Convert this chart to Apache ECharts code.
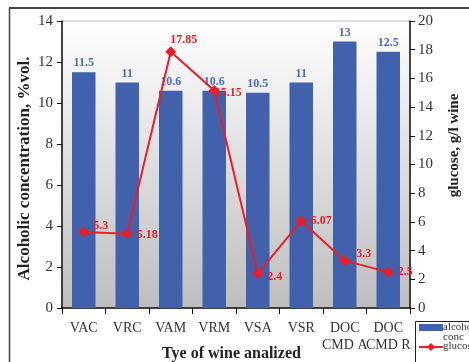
<!DOCTYPE html>
<html>
<head>
<meta charset="utf-8">
<script src="https://cdn.jsdelivr.net/npm/echarts@6/dist/echarts.min.js"></script>
<style>
  html, body { margin: 0; padding: 0; background: #fff; }
  #chart { width: 469px; height: 362px; }
</style>
</head>
<body>
<div id="chart"></div>
<script>
// Wine samples and their measured values
const categories = ['VAC', 'VRC', 'VAM', 'VRM', 'VSA', 'VSR', 'DOC\nCMD A', 'DOC\nCMD R'];
const alcoholValues = [11.5, 11, 10.6, 10.6, 10.5, 11, 13, 12.5];
const glucoseValues = [5.3, 5.18, 17.85, 15.15, 2.4, 6.07, 3.3, 2.5];
const leftTicks = { min: 0, max: 14, step: 2 };
const rightTicks = { min: 0, max: 20, step: 2 };

// per-point nudges for the glucose labels
const glucoseLabelOffsets = [[0, -6], [0, 1], [-10, -12], [-9, 2], [0, 3], [0, 0], [2, -7], [0, 0]];

const serif = '"Liberation Serif", "DejaVu Serif", serif';
const chart = echarts.init(document.getElementById('chart'), null, { renderer: 'canvas' });

const axisLabelStyle = { fontFamily: serif, fontSize: 15, color: '#333' };

// hand-drawn legend box in the lower right corner
const legendX = 415, legendY = 321;
const legendGraphics = [
  { type: 'rect', shape: { x: legendX + 0.5, y: legendY + 0.5, width: 70, height: 50 },
    style: { fill: '#fff', stroke: '#222', lineWidth: 1 }, z: 10 },
  { type: 'rect', shape: { x: legendX + 4, y: legendY + 3, width: 24, height: 7 },
    style: { fill: '#4161ad' }, z: 11 },
  { type: 'text', x: legendX + 28, y: legendY + 1,
    style: { text: 'alcoholic', font: '11px ' + serif, fill: '#333' }, z: 11 },
  { type: 'text', x: legendX + 28, y: legendY + 11,
    style: { text: 'conc', font: '11px ' + serif, fill: '#333' }, z: 11 },
  { type: 'line', shape: { x1: legendX + 4, y1: legendY + 26, x2: legendX + 28, y2: legendY + 26 },
    style: { stroke: '#ee1c25', lineWidth: 2 }, z: 11 },
  { type: 'polygon', shape: { points: [[legendX + 16, legendY + 22], [legendX + 20, legendY + 26], [legendX + 16, legendY + 30], [legendX + 12, legendY + 26]] },
    style: { fill: '#ee1c25' }, z: 12 },
  { type: 'text', x: legendX + 28, y: legendY + 20,
    style: { text: 'glucose', font: '11px ' + serif, fill: '#333' }, z: 11 }
];

chart.setOption({
  animation: false,
  textStyle: { fontFamily: serif },
  graphic: [
    // outer frame lines
    { type: 'line', shape: { x1: 9, y1: 8, x2: 469, y2: 8 }, style: { stroke: '#444', lineWidth: 2 } },
    { type: 'line', shape: { x1: 9.5, y1: 8, x2: 9.5, y2: 362 }, style: { stroke: '#444', lineWidth: 1.5 } }
  ].concat(legendGraphics),
  grid: {
    left: 62, right: 59, top: 21, bottom: 54,
    outerBoundsMode: 'none',
    containLabel: false,
    show: true,
    borderWidth: 1,
    borderColor: '#bbb',
    backgroundColor: {
      type: 'linear', x: 0, y: 0, x2: 0, y2: 1,
      colorStops: [{ offset: 0, color: '#ffffff' }, { offset: 1, color: '#bdbdbd' }]
    }
  },
  xAxis: {
    type: 'category',
    data: categories,
    name: 'Tye of wine analized',
    nameLocation: 'middle',
    nameGap: 38,
    nameMoveOverlap: false,
    nameTextStyle: { fontFamily: serif, fontSize: 16, fontWeight: 'bold', color: '#222', padding: [0, 9, 0, 0] },
    axisLine: { lineStyle: { color: '#111', width: 1.5 } },
    axisTick: { show: true, length: 6, lineStyle: { color: '#111' } },
    axisLabel: Object.assign({}, axisLabelStyle, { interval: 0, margin: 12, lineHeight: 17, fontSize: 14 })
  },
  yAxis: [
    {
      type: 'value',
      min: leftTicks.min, max: leftTicks.max, interval: leftTicks.step,
      name: 'Alcoholic concentration, %vol.',
      nameLocation: 'middle',
      nameGap: 29,
      nameMoveOverlap: false,
      nameTextStyle: { fontFamily: serif, fontSize: 17, fontWeight: 'bold', color: '#222', padding: [0, 8, 0, 0] },
      axisLine: { show: true, lineStyle: { color: '#111', width: 1.5 } },
      axisTick: { show: true, length: 5, lineStyle: { color: '#111' } },
      splitLine: { show: false },
      axisLabel: Object.assign({}, axisLabelStyle, { margin: 9 })
    },
    {
      type: 'value',
      position: 'right',
      min: rightTicks.min, max: rightTicks.max, interval: rightTicks.step,
      name: 'glucose, g/l wine',
      nameLocation: 'middle',
      nameGap: 37,
      nameRotate: 90,
      nameMoveOverlap: false,
      nameTextStyle: { fontFamily: serif, fontSize: 15, fontWeight: 'bold', color: '#222', padding: [0, 0, 0, 38] },
      axisLine: { show: true, lineStyle: { color: '#111', width: 1.5 } },
      axisTick: { show: true, length: 5, lineStyle: { color: '#111' } },
      splitLine: { show: false },
      axisLabel: Object.assign({}, axisLabelStyle, { margin: 8 })
    }
  ],
  series: [
    {
      name: 'alcoholic conc',
      type: 'bar',
      yAxisIndex: 0,
      data: alcoholValues,
      barWidth: '54%',
      itemStyle: { color: '#4161ad' },
      label: {
        show: true, position: 'top', distance: 3,
        fontFamily: serif, fontSize: 12, fontWeight: 'bold', color: '#4a6cc0'
      }
    },
    {
      name: 'glucose',
      type: 'line',
      yAxisIndex: 1,
      data: glucoseValues.map((v, i) => ({
        value: v,
        label: { offset: glucoseLabelOffsets[i] }
      })),
      symbol: 'diamond',
      symbolSize: 11,
      lineStyle: { color: '#ee1c25', width: 2 },
      itemStyle: { color: '#ee1c25' },
      label: {
        show: true, position: 'right', distance: 4,
        fontFamily: serif, fontSize: 12, fontWeight: 'bold', color: '#ee1c25'
      },
      z: 5
    }
  ]
});
</script>
</body>
</html>
